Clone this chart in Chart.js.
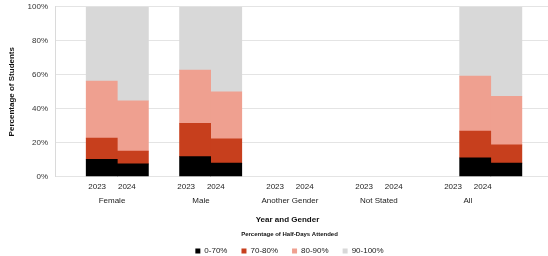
<!DOCTYPE html>
<html>
<head>
<meta charset="utf-8">
<script src="https://cdn.jsdelivr.net/npm/chart.js@4/dist/chart.umd.min.js"></script>
<style>
  html, body { margin: 0; padding: 0; background: #fff; overflow: hidden; width: 548px; height: 256px; }
  #wrap { width: 560px; height: 270px; margin-top: -5px; }
</style>
</head>
<body>
<div id="wrap"><canvas id="chart" width="560" height="270"></canvas></div>
<script>
// One slot per bar, blank slots between the gender groups
const slots = ["", "Female 2023", "Female 2024", "", "Male 2023", "Male 2024", "", "Another Gender 2023", "Another Gender 2024",
    "", "Not Stated 2023", "Not Stated 2024", "", "All 2023", "All 2024", ""];
const years = ["2023", "2024", "2023", "2024", "2023", "2024", "2023", "2024", "2023", "2024"];
const yearPos = [1, 2, 4, 5, 7, 8, 10, 11, 13, 14];
const genders = ["Female", "Male", "Another Gender", "Not Stated", "All"];
const genderPos = [1.5, 4.5, 7.5, 10.5, 13.5];

// Percentage of students per attendance band
const band0to70 = [null, 10.2, 7.5, null, 11.8, 7.9, null, null, null, null, null, null, null, 11.0, 7.9, null];
const band70to80 = [null, 12.5, 7.5, null, 19.6, 14.4, null, null, null, null, null, null, null, 15.8, 10.8, null];
const band80to90 = [null, 33.5, 29.6, null, 31.3, 27.6, null, null, null, null, null, null, null, 32.4, 28.6, null];
const band90to100 = [null, 43.8, 55.4, null, 37.3, 50.1, null, null, null, null, null, null, null, 40.8, 52.7, null];

const font = "'Liberation Sans', Arial, sans-serif";

// label axes sit a little left of the bars, like the original
const labelMin = -0.42;
const labelMax = 16.37;

// nudge the centred boxes to where the original has them
const nudge = {
    id: "nudge",
    afterLayout(chart) {
        chart.legend.left += 12;
        chart.legend.right += 12;
        chart.titleBlock.left += 10;
        chart.titleBlock.right += 10;
    }
};

const ctx = document.getElementById("chart").getContext("2d");
new Chart(ctx, {
    type: "bar",
    data: {
        labels: slots,
        datasets: [
            { label: "0-70%", data: band0to70, backgroundColor: "#000000", xAxisID: "x" },
            { label: "70-80%", data: band70to80, backgroundColor: "#C73F1D", xAxisID: "x" },
            { label: "80-90%", data: band80to90, backgroundColor: "#EFA090", xAxisID: "x" },
            { label: "90-100%", data: band90to100, backgroundColor: "#D8D8D8", xAxisID: "x" }
        ]
    },
    plugins: [nudge],
    options: {
        responsive: false,
        animation: false,
        layout: { padding: { left: 2, right: 7, top: 0, bottom: 0 } },
        datasets: {
            bar: { barPercentage: 1, categoryPercentage: 1, borderWidth: 0 }
        },
        scales: {
            x: {
                stacked: true,
                display: false
            },
            xYear: {
                type: "linear",
                position: "bottom",
                weight: 1,
                min: labelMin,
                max: labelMax,
                offset: false,
                grid: { display: false, drawTicks: false },
                border: { display: false },
                afterBuildTicks: axis => {
                    axis.ticks = yearPos.map(v => ({ value: v }));
                },
                ticks: {
                    padding: 5,
                    maxRotation: 0,
                    autoSkip: false,
                    color: "#222",
                    font: { family: font, size: 8 },
                    callback: (v, i) => years[i]
                }
            },
            xGender: {
                type: "linear",
                position: "bottom",
                weight: 2,
                min: labelMin,
                max: labelMax,
                offset: false,
                grid: { display: false, drawTicks: false },
                border: { display: false },
                afterBuildTicks: axis => {
                    axis.ticks = genderPos.map(v => ({ value: v }));
                },
                ticks: {
                    padding: 0,
                    maxRotation: 0,
                    autoSkip: false,
                    color: "#222",
                    font: { family: font, size: 8 },
                    callback: (v, i) => genders[i]
                }
            },
            y: {
                stacked: true,
                min: 0,
                max: 100,
                grid: { color: "#E4E4E4", drawTicks: false },
                border: { display: true, color: "#DADADA" },
                ticks: {
                    stepSize: 20,
                    padding: 7,
                    color: "#333",
                    font: { family: font, size: 8 },
                    callback: v => v + "%"
                },
                title: {
                    display: true,
                    text: "Percentage of Students",
                    color: "#111",
                    padding: { top: 5, bottom: 4 },
                    font: { family: font, size: 8, weight: "bold" }
                }
            }
        },
        plugins: {
            tooltip: { enabled: false },
            title: {
                display: true,
                position: "bottom",
                weight: 500,
                text: "Year and Gender",
                color: "#111",
                padding: { top: 9, bottom: 3 },
                font: { family: font, size: 8, weight: "bold" }
            },
            legend: {
                position: "bottom",
                title: {
                    display: true,
                    text: "Percentage of Half-Days Attended",
                    color: "#111",
                    padding: { top: 4, bottom: -5.6 },
                    font: { family: font, size: 6, weight: "bold" }
                },
                labels: {
                    boxWidth: 5,
                    boxHeight: 5,
                    padding: 14,
                    color: "#222",
                    font: { family: font, size: 8 }
                }
            }
        }
    }
});
</script>
</body>
</html>
